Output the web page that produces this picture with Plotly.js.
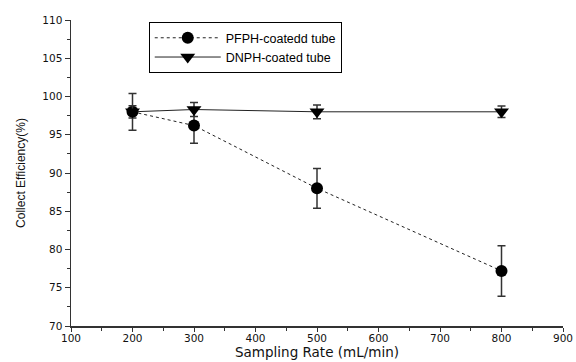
<!DOCTYPE html>
<html><head><meta charset="utf-8">
<script src="https://cdn.plot.ly/plotly-3.0.1.min.js"></script>
<style>html,body{margin:0;padding:0;background:#fff}#c{width:576px;height:362px}</style>
</head><body><div id="c"></div>
<script>
const rates = [200, 300, 500, 800];
const pfphEff = [98.0, 96.2, 88.0, 77.2];
const pfphErr = [2.4, 2.3, 2.6, 3.3];
const dnphEff = [98.0, 98.3, 98.0, 98.0];
const dnphErr = [0.8, 0.9, 0.9, 0.75];
const seriesNames = ["PFPH-coatedd tube", "DNPH-coated tube"];

const traces = [
  {x: rates, y: pfphEff, name: seriesNames[0], type: 'scatter', mode: 'lines+markers',
   line: {color: '#222', width: 1, dash: 'dot'},
   marker: {symbol: 'circle', size: 12, color: '#000'},
   error_y: {type: 'data', array: pfphErr, visible: true, color: '#333', thickness: 1.5, width: 4}},
  {x: rates, y: dnphEff, name: seriesNames[1], type: 'scatter', mode: 'lines+markers',
   line: {color: '#222', width: 1},
   marker: {symbol: 'triangle-down', size: 13, color: '#000'},
   error_y: {type: 'data', array: dnphErr, visible: true, color: '#333', thickness: 1.5, width: 4}}
];

const tickF = {family: 'DejaVu Sans, sans-serif', size: 10.5, color: '#111'};
const layout = {
  width: 576, height: 362,
  margin: {l: 71, r: 13, t: 20, b: 36},
  paper_bgcolor: '#fff', plot_bgcolor: '#fff',
  font: {family: 'Liberation Sans, Arial, sans-serif', color: '#000', size: 11},
  showlegend: true,
  legend: {x: 0.158, y: 0.993, xanchor: 'left', yanchor: 'top', bordercolor: '#000', borderwidth: 1,
           itemwidth: 66,
           font: {family: 'Liberation Sans, Arial, sans-serif', size: 12.5, color: '#000'}, bgcolor: '#fff'},
  xaxis: {range: [100, 900], dtick: 100, tick0: 100, showgrid: false, zeroline: false,
          showline: true, linecolor: '#333', linewidth: 1.5, ticks: 'outside', ticklen: 4, tickcolor: '#333', tickwidth: 1,
          ticklabelstandoff: -2,
          minor: {dtick: 50, ticks: 'outside', ticklen: 3, tickcolor: '#333', showgrid: false},
          title: {text: 'Sampling Rate (mL/min)', font: {family: 'DejaVu Sans, sans-serif', size: 13.5, color: '#111'}, standoff: 3},
          tickfont: tickF},
  yaxis: {range: [70, 110], dtick: 5, showgrid: false, zeroline: false,
          showline: true, linecolor: '#333', linewidth: 1.5, ticks: 'outside', ticklen: 5, tickcolor: '#333', tickwidth: 1,
          minor: {dtick: 2.5, ticks: 'outside', ticklen: 3, tickcolor: '#333', showgrid: false},
          title: {text: 'Collect Efficiency(%)', font: {family: 'Liberation Sans, Arial, sans-serif', size: 12, color: '#111'}, standoff: 14},
          tickfont: tickF}
};
Plotly.newPlot('c', traces, layout, {displayModeBar: false, staticPlot: true});
</script></body></html>
